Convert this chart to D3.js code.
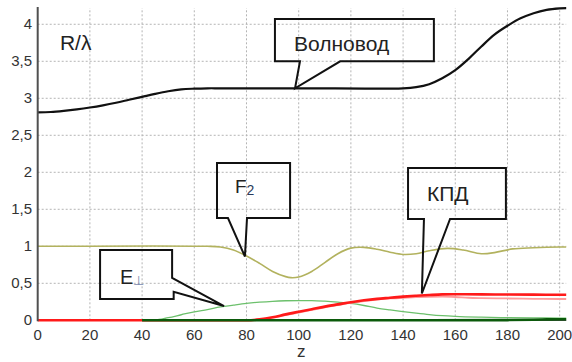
<!DOCTYPE html>
<html><head><meta charset="utf-8">
<script src="https://cdn.jsdelivr.net/npm/d3@7/dist/d3.min.js"></script>
<style>body{margin:0;background:#fff;} svg{display:block;font-family:"Liberation Sans",Arial,sans-serif;}</style>
</head><body>
<script>
// ---- data ----
const xTicks = [0,20,40,60,80,100,120,140,160,180,200];
const yTicks = [0,0.5,1,1.5,2,2.5,3,3.5,4];
const yTickLabels = ["0","0,5","1","1,5","2","2,5","3","3,5","4"];

const waveZ = [0,5,10,15,20,25,30,35,40,45,50,55,60,65,70,100,140,145,150,155,160,165,170,175,180,185,190,195,200,202.5];
const waveR = [2.81,2.815,2.83,2.85,2.875,2.905,2.94,2.98,3.02,3.06,3.095,3.12,3.13,3.135,3.135,3.135,3.135,3.15,3.19,3.27,3.38,3.53,3.7,3.86,3.98,4.08,4.15,4.195,4.215,4.218];

const f2Z = [0,65,70,75,80,85,90,95,97,100,105,110,115,120,125,130,135,140,145,150,157,163,170,175,182,190,200,202.5];
const f2V = [1,1,0.99,0.95,0.87,0.77,0.66,0.59,0.576,0.585,0.66,0.78,0.9,0.975,0.985,0.96,0.92,0.89,0.9,0.94,0.972,0.95,0.9,0.915,0.965,0.98,0.99,0.99];

const eZ = [40,45,50,55,60,65,70,75,80,85,90,95,100,105,110,115,120,125,130,135,140,145,150,155,160,170,180,190,200,202.5];
const eV = [0,0.003,0.035,0.075,0.115,0.145,0.18,0.205,0.228,0.245,0.257,0.264,0.267,0.266,0.258,0.245,0.228,0.2,0.165,0.14,0.118,0.097,0.078,0.063,0.053,0.042,0.036,0.033,0.03,0.03];

const kpdZ = [0,80,85,90,95,100,105,110,115,120,125,130,135,140,145,150,155,160,170,180,190,200,202.5];
const kpdV = [0,0,0.012,0.04,0.08,0.115,0.15,0.185,0.215,0.245,0.27,0.29,0.305,0.32,0.332,0.342,0.35,0.352,0.35,0.348,0.347,0.345,0.345];

const pinkZ = [40,80,85,90,95,100,105,110,115,120,125,130,135,140,145,150,155,160,165,170,180,190,200,202.5];
const pinkV = [0,0,0.01,0.035,0.07,0.105,0.14,0.175,0.205,0.235,0.26,0.28,0.295,0.305,0.312,0.318,0.32,0.315,0.305,0.3,0.295,0.29,0.288,0.288];

const dgZ = [40,100,150,180,190,195,200,202.5];
const dgV = [0,0,0,0.003,0.008,0.012,0.015,0.015];

// ---- layout ----
const W = 572, H = 362;
const x = d3.scaleLinear().domain([0, 202.5]).range([37.7, 566.2]);
const y = d3.scaleLinear().domain([0, 4.22]).range([320.3, 8.0]);

const svg = d3.select("body").append("svg").attr("width", W).attr("height", H);

// grid
svg.append("g").selectAll("line").data(xTicks.slice(1)).join("line")
  .attr("x1", d => x(d)).attr("x2", d => x(d)).attr("y1", y(0)).attr("y2", y(4.22))
  .attr("stroke", "#b4b4b4").attr("stroke-dasharray", "2,2");
svg.append("g").selectAll("line").data(yTicks.slice(1)).join("line")
  .attr("x1", x(0)).attr("x2", x(202.5)).attr("y1", d => y(d)).attr("y2", d => y(d))
  .attr("stroke", "#b4b4b4").attr("stroke-dasharray", "2,2");

// x baseline
svg.append("line").attr("x1", x(0)).attr("x2", x(202.5)).attr("y1", y(0)).attr("y2", y(0))
  .attr("stroke", "#444").attr("stroke-width", 1.5);

// tick labels
svg.append("g").selectAll("text").data(yTicks).join("text")
  .attr("x", 32).attr("y", d => y(d) + 5).attr("text-anchor", "end")
  .attr("font-size", 15).attr("fill", "#333").text((d, i) => yTickLabels[i]);
svg.append("g").selectAll("text").data(xTicks).join("text")
  .attr("x", d => x(d)).attr("y", 340).attr("text-anchor", "middle")
  .attr("font-size", 15).attr("fill", "#333").text(d => d);
svg.append("text").attr("x", x(101)).attr("y", 357).attr("text-anchor", "middle")
  .attr("font-size", 17).attr("fill", "#333").text("z");

// curves
const lineM = d3.line().x(d => x(d[0])).y(d => y(d[1])).curve(d3.curveMonotoneX);
const lineC = d3.line().x(d => x(d[0])).y(d => y(d[1])).curve(d3.curveCatmullRom.alpha(0.5));
function draw(zs, vs, color, w, gen) {
  svg.append("path").datum(zs.map((z, i) => [z, vs[i]])).attr("d", gen || lineM)
    .attr("fill", "none").attr("stroke", color).attr("stroke-width", w)
    .attr("stroke-linejoin", "round");
}
draw(f2Z, f2V, "#b2b25e", 1.6, lineC);
draw(eZ, eV, "#6cc06c", 1.3);
draw(pinkZ, pinkV, "#ff9a9a", 1.8);
draw(kpdZ, kpdV, "#ff1a1a", 2.6);
draw(dgZ, dgV, "#0b5a0b", 2.6);
draw(waveZ, waveR, "#111", 2.2, lineC);

// y axis line
svg.append("line").attr("x1", x(0)).attr("x2", x(0)).attr("y1", y(0) + 1).attr("y2", 7)
  .attr("stroke", "#505050").attr("stroke-width", 2);

// callouts (data coordinates)
function calloutBottom(z0, z1, v0, v1, b0, b1, tz, tv) {
  const p = d3.path();
  p.moveTo(x(z0), y(v0)); p.lineTo(x(z1), y(v0)); p.lineTo(x(z1), y(v1));
  p.lineTo(x(b1), y(v1)); p.lineTo(x(tz), y(tv)); p.lineTo(x(b0), y(v1));
  p.lineTo(x(z0), y(v1)); p.closePath();
  svg.append("path").attr("d", p.toString()).attr("fill", "none")
    .attr("stroke", "#111").attr("stroke-width", 2).attr("stroke-linejoin", "miter");
}
calloutBottom(90.9, 151.8, 4.07, 3.5, 100.5, 115.9, 98.6, 3.135);
calloutBottom(68.7, 96.7, 2.126, 1.382, 72.9, 80.2, 79.4, 0.862);
calloutBottom(141.9, 179.4, 2.058, 1.369, 148.0, 158.0, 147.2, 0.362);
(function () {
  const p = d3.path();
  p.moveTo(x(23.9), y(0.95)); p.lineTo(x(51.5), y(0.95)); p.lineTo(x(51.5), y(0.572));
  p.lineTo(x(71.4), y(0.193)); p.lineTo(x(52.1), y(0.385)); p.lineTo(x(52.1), y(0.288));
  p.lineTo(x(23.9), y(0.288)); p.closePath();
  svg.append("path").attr("d", p.toString()).attr("fill", "none")
    .attr("stroke", "#111").attr("stroke-width", 2);
})();

// labels
svg.append("text").attr("x", x(8.5)).attr("y", y(3.65)).attr("font-size", 21).attr("fill", "#222").text("R/λ");
svg.append("text").attr("x", 294).attr("y", 51).attr("font-size", 21).attr("fill", "#222").text("Волновод");
const f = svg.append("text").attr("x", 235).attr("y", 193).attr("font-size", 19).attr("fill", "#222");
f.append("tspan").text("F");
f.append("tspan").attr("font-size", 14).attr("dy", 2).attr("fill", "#2a3a5a").text("2");
svg.append("text").attr("x", 427).attr("y", 201).attr("font-size", 21).attr("fill", "#222").text("КПД");
const e = svg.append("text").attr("x", 120).attr("y", 284).attr("font-size", 20).attr("fill", "#222");
e.append("tspan").text("E");
e.append("tspan").attr("font-size", 13).attr("dy", 1).attr("fill", "#7a8ab0").text("⊥");
</script>
</body></html>
